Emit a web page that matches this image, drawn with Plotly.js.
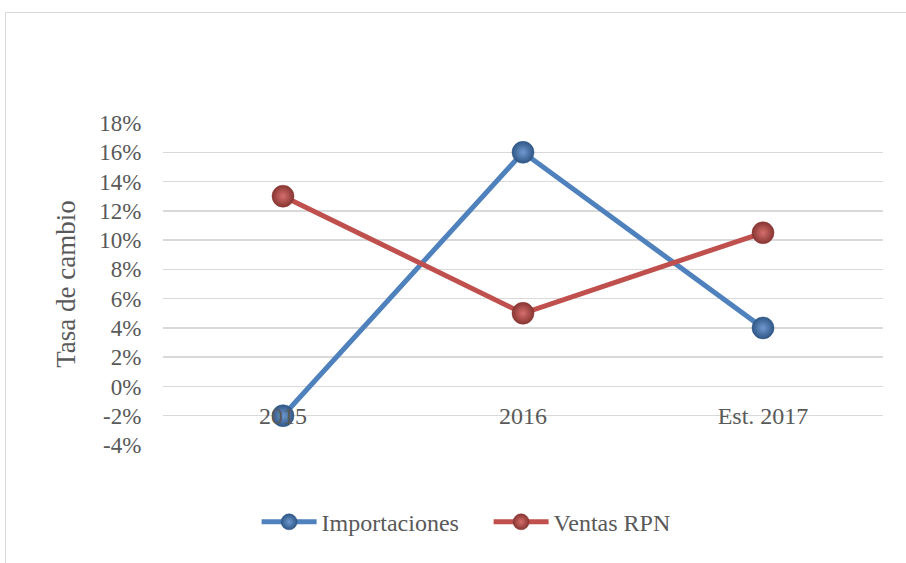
<!DOCTYPE html>
<html><head><meta charset="utf-8">
<script src="https://cdn.plot.ly/plotly-3.0.1.min.js"></script>
<style>
body{margin:0;background:#fff;}
#frame{position:absolute;left:5px;top:12px;width:1000px;height:700px;border:1.5px solid #d9d9d9;box-sizing:border-box;}
#chart{position:absolute;left:0;top:0;width:906px;height:563px;}
</style></head>
<body>
<div id="frame"></div>
<div id="chart"></div>
<script>
const categories = ["2015", "2016", "Est. 2017"];
const importaciones = [-2, 16, 4];
const ventasRPN = [13, 5, 10.5];
const yTicks = [-4, -2, 0, 2, 4, 6, 8, 10, 12, 14, 16, 18];
const yTickLabels = yTicks.map(v => v + "%");

const font = {family: "Liberation Serif, Times New Roman, serif", color: "#595959"};

function trace(name, y, col, edge, light) {
  return {
    type: "scatter", mode: "lines+markers", name: name,
    x: categories, y: y,
    line: {color: col, width: 5},
    marker: {size: 22, color: edge, line: {color: edge, width: 0.5},
             gradient: {type: "radial", color: light}}
  };
}

const data = [
  trace("Importaciones", importaciones, "#4f81bd", "#2f5685", "#6f9ad0"),
  trace("Ventas RPN", ventasRPN, "#c0504d", "#873532", "#d66f6c")
];

const layout = {
  width: 906, height: 563,
  margin: {l: 163, r: 23, t: 123, b: 118},
  paper_bgcolor: "rgba(0,0,0,0)", plot_bgcolor: "rgba(0,0,0,0)",
  font: Object.assign({size: 23}, font),
  showlegend: true,
  legend: {orientation: "h", x: 0.13, xanchor: "left", y: -0.17, yanchor: "top",
           font: Object.assign({size: 24}, font), itemwidth: 55,
           entrywidth: 162, entrywidthmode: "pixels"},
  xaxis: {
    type: "category", range: [-0.5, 2.5],
    anchor: "free", position: 4 / 22,
    showgrid: false, zeroline: false, showline: false,
    ticks: "outside", ticklen: 8, tickcolor: "rgba(0,0,0,0)",
    tickfont: Object.assign({size: 24}, font)
  },
  yaxis: {
    range: [-4, 18], tickvals: yTicks, ticktext: yTickLabels,
    showgrid: true, gridcolor: "#d9d9d9", gridwidth: 1.5,
    zeroline: false, showline: false,
    ticks: "outside", ticklen: 16, tickcolor: "rgba(0,0,0,0)",
    tickfont: Object.assign({size: 23}, font),
    title: {text: "Tasa de cambio", font: Object.assign({size: 27}, font), standoff: 15}
  }
};

Plotly.newPlot("chart", data, layout, {displayModeBar: false, staticPlot: true});
</script>
</body></html>
